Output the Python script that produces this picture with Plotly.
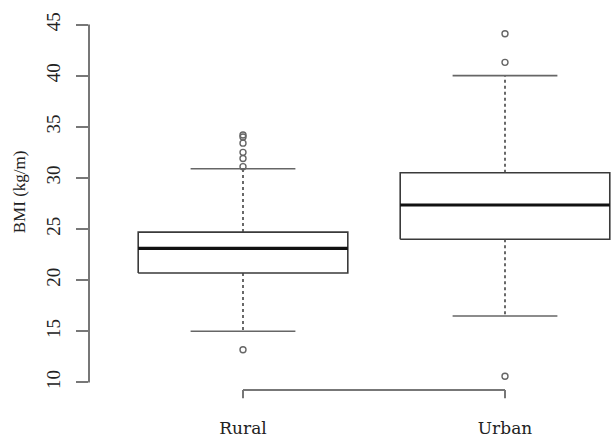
import plotly.graph_objects as go

# ---- data ----
categories = ["Rural", "Urban"]
positions = [1, 2]
q1 = [20.7, 24.0]
median = [23.1, 27.35]
q3 = [24.7, 30.5]
lower_whisker = [15.0, 16.5]
upper_whisker = [30.9, 40.0]
outliers_rural = [13.2, 31.1, 31.9, 32.5, 33.4, 34.0, 34.2]
outliers_urban = [10.6, 41.3, 44.1]
y_ticks = [10, 15, 20, 25, 30, 35, 40, 45]

BOX_HALF = 0.4
CAP_HALF = 0.2
SERIF = "Liberation Serif, Times New Roman, serif"

fig = go.Figure()

for i, c in enumerate(positions):
    # box rectangle
    fig.add_trace(go.Scatter(
        x=[c - BOX_HALF, c + BOX_HALF, c + BOX_HALF, c - BOX_HALF, c - BOX_HALF],
        y=[q1[i], q1[i], q3[i], q3[i], q1[i]],
        mode="lines", line=dict(color="#3a3a3a", width=1.6),
        hoverinfo="skip", showlegend=False))
    # median
    fig.add_trace(go.Scatter(
        x=[c - BOX_HALF, c + BOX_HALF], y=[median[i], median[i]],
        mode="lines", line=dict(color="#111111", width=3.2),
        hoverinfo="skip", showlegend=False))
    # whiskers (dashed)
    fig.add_trace(go.Scatter(
        x=[c, c, None, c, c],
        y=[q3[i], upper_whisker[i], None, q1[i], lower_whisker[i]],
        mode="lines", line=dict(color="#444444", width=1.6, dash="3px,3px"),
        hoverinfo="skip", showlegend=False))
    # caps
    fig.add_trace(go.Scatter(
        x=[c - CAP_HALF, c + CAP_HALF, None, c - CAP_HALF, c + CAP_HALF],
        y=[upper_whisker[i], upper_whisker[i], None, lower_whisker[i], lower_whisker[i]],
        mode="lines", line=dict(color="#666666", width=1.6),
        hoverinfo="skip", showlegend=False))

# outliers
for c, vals in zip(positions, [outliers_rural, outliers_urban]):
    fig.add_trace(go.Scatter(
        x=[c] * len(vals), y=vals, mode="markers",
        marker=dict(symbol="circle-open", size=6, color="#666666", line=dict(width=1.4)),
        hoverinfo="skip", showlegend=False))

# R-style axis lines
fig.add_shape(type="line", xref="paper", yref="y", x0=0, x1=0, y0=y_ticks[0], y1=y_ticks[-1],
              line=dict(color="#777777", width=2))
fig.add_shape(type="line", xref="x", yref="paper", x0=positions[0], x1=positions[-1], y0=0, y1=0,
              line=dict(color="#777777", width=2))
for c in positions:
    fig.add_shape(type="line", xref="x", yref="paper", x0=c, x1=c, y0=0, y1=-0.022,
                  line=dict(color="#777777", width=2))

fig.add_annotation(text="BMI (kg/m)", xref="paper", yref="y", x=0, y=28.6,
                   xanchor="center", yanchor="middle",
                   xshift=-70, textangle=-90, showarrow=False,
                   font=dict(family=SERIF, size=17, color="#222222"))

fig.update_layout(
    width=611, height=437,
    margin=dict(l=89, r=0, t=20, b=47),
    paper_bgcolor="white", plot_bgcolor="white",
    xaxis=dict(range=[0.4122, 2.4046], showgrid=False, zeroline=False, showline=False,
               tickvals=positions, ticktext=categories, ticks="",
               ticklabelstandoff=26,
               tickfont=dict(family="DejaVu Serif, serif", size=17, color="#222222")),
    yaxis=dict(range=[9.26, 45.44], showgrid=False, zeroline=False, showline=False,
               tickvals=y_ticks, ticks="outside", ticklen=12, tickwidth=2, tickcolor="#777777",
               tickangle=-90, ticklabelstandoff=8,
               tickfont=dict(family=SERIF, size=19, color="#222222")),
)

fig.write_html("out.html", config={"displayModeBar": False},
               post_script="document.body.style.margin='0';document.body.style.overflow='hidden';")
